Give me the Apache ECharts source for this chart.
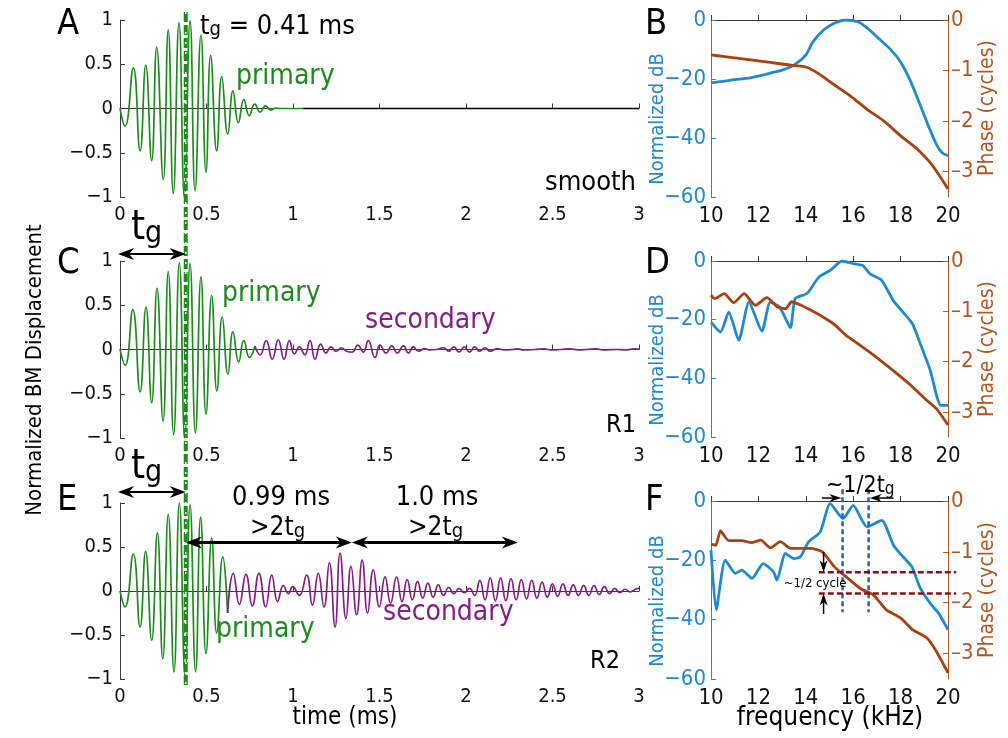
<!DOCTYPE html>
<html><head><meta charset="utf-8">
<script src="https://cdn.jsdelivr.net/npm/echarts@6/dist/echarts.min.js"></script>
<style>html,body{margin:0;padding:0;background:#fff}#c{width:1008px;height:738px}</style>
</head><body><div id="c"></div>
<script>
// ---------------- DATA ----------------
const timeTicks = [0, 0.5, 1, 1.5, 2, 2.5, 3];
const dispTicks = [-1, -0.5, 0, 0.5, 1];
const freqTicks = [10, 12, 14, 16, 18, 20];
const dbTicks = [-60, -40, -20, 0];
const phaseTicks = [-3, -2, -1, 0];

// Panel A (smooth): primary waveform [time ms, displacement]
const aPrimary = [[0,0],[0.029,-0.2],[0.077,0.46],[0.116,-0.48],[0.149,0.49],[0.183,-0.59],[0.212,0.69],[0.25,-0.8],[0.279,0.89],[0.308,-0.96],[0.341,0.97],[0.372,-1.0],[0.405,0.99],[0.434,-0.93],[0.468,0.83],[0.497,-0.72],[0.524,0.6],[0.559,-0.48],[0.588,0.36],[0.623,-0.29],[0.653,0.2],[0.684,-0.16],[0.716,0.1],[0.747,-0.08],[0.779,0.05],[0.81,-0.04],[0.841,0.03],[0.872,-0.02],[0.9,0.005],[0.93,0],[1.06,0]];
const aTail = [[1.06,0],[3,0]];

// Panel C (R1)
const cPrimary = [[0,0],[0.03,-0.18],[0.074,0.45],[0.116,-0.48],[0.15,0.48],[0.183,-0.6],[0.214,0.69],[0.249,-0.81],[0.279,0.88],[0.31,-0.96],[0.343,0.98],[0.374,-1.0],[0.405,0.97],[0.436,-0.94],[0.468,0.82],[0.497,-0.73],[0.53,0.61],[0.56,-0.47],[0.591,0.37],[0.624,-0.28],[0.653,0.2],[0.686,-0.14],[0.716,0.1],[0.748,-0.09],[0.78,0.04]];
const cSecondary = [[0.78,0.04],[0.81,-0.06],[0.845,0.1],[0.88,-0.11],[0.915,0.11],[0.948,-0.11],[0.979,0.1],[1.008,-0.05],[1.037,0.03],[1.068,-0.06],[1.098,0.1],[1.127,-0.11],[1.16,0.06],[1.19,-0.04],[1.22,0.03],[1.25,-0.02],[1.28,0.02],[1.31,-0.02],[1.343,-0.03],[1.374,0.05],[1.407,-0.03],[1.435,0.1],[1.474,-0.09],[1.503,0.05],[1.538,-0.04],[1.571,0.04],[1.603,-0.04],[1.638,0.04],[1.667,-0.04],[1.696,0.03],[1.725,-0.02],[1.76,0.01],[1.79,-0.005],[1.83,0],[1.87,0.02],[1.9,-0.02],[1.93,0.03],[1.96,-0.03],[1.99,0.03],[2.02,-0.03],[2.05,0.03],[2.08,-0.02],[2.11,0.02],[2.14,-0.02],[2.18,0.01],[2.22,-0.005],[2.27,0],[2.3,0.008],[2.33,-0.005],[2.4,0],[2.45,0.006],[2.5,-0.005],[2.55,0],[2.6,0.006],[2.65,-0.004],[2.7,0],[2.75,0.006],[2.8,-0.005],[2.87,0],[2.93,-0.004],[2.97,0.006],[3.0,0.005]];

// Panel E (R2)
const ePrimary = [[0,0],[0.029,-0.18],[0.077,0.42],[0.116,-0.41],[0.148,0.45],[0.183,-0.56],[0.216,0.66],[0.247,-0.77],[0.279,0.87],[0.312,-0.92],[0.343,1.0],[0.376,-0.97],[0.405,0.98],[0.437,-0.92],[0.466,0.84],[0.497,-0.71],[0.53,0.6],[0.559,-0.48],[0.594,0.39],[0.622,-0.25]];
const eSecondary = [[0.622,-0.25],[0.655,0.2],[0.69,-0.15],[0.728,0.19],[0.765,-0.17],[0.803,0.2],[0.842,-0.18],[0.877,0.18],[0.911,-0.12],[0.944,0.06],[0.973,-0.03],[0.998,0.05],[1.036,-0.05],[1.079,0.18],[1.112,-0.16],[1.146,0.2],[1.179,-0.18],[1.21,0.32],[1.243,-0.41],[1.272,0.43],[1.306,-0.31],[1.335,0.28],[1.368,-0.27],[1.4,0.35],[1.431,-0.25],[1.464,0.24],[1.499,-0.18],[1.532,0.16],[1.564,-0.14],[1.599,0.16],[1.63,-0.12],[1.66,0.13],[1.69,-0.1],[1.72,0.11],[1.75,-0.08],[1.78,0.09],[1.81,-0.07],[1.84,0.07],[1.87,-0.05],[1.9,0.04],[1.93,-0.03],[1.96,0.03],[1.99,-0.02],[2.02,0.03],[2.05,-0.05],[2.08,0.12],[2.11,-0.1],[2.14,0.15],[2.17,-0.11],[2.2,0.15],[2.23,-0.11],[2.26,0.14],[2.29,-0.1],[2.32,0.13],[2.35,-0.09],[2.38,0.12],[2.41,-0.08],[2.44,0.1],[2.47,-0.07],[2.5,0.08],[2.53,-0.06],[2.56,0.08],[2.59,-0.05],[2.62,0.07],[2.65,-0.05],[2.68,0.06],[2.71,-0.05],[2.74,0.06],[2.77,-0.04],[2.8,0.05],[2.83,-0.03],[2.86,0.03],[2.89,-0.02],[2.92,0.02],[2.95,-0.01],[2.98,0.02],[3.0,0.03]];

// Panel B: [kHz, dB] and [kHz, cycles]
const bMag = [[10,-21.3],[10.5,-20.8],[11,-20.2],[11.5,-19.8],[12,-19],[12.5,-18],[13,-17],[13.5,-15.3],[14,-11.9],[14.3,-7.4],[14.75,-3.4],[15.2,-1.1],[15.7,0],[16.2,-0.6],[16.6,-2.8],[17,-5.7],[17.6,-10.2],[18,-14.2],[18.4,-20.4],[18.8,-28.3],[19.25,-37.4],[19.5,-42],[19.75,-45],[20,-46]];
const bPhase = [[10,-0.69],[10.5,-0.72],[11,-0.75],[11.5,-0.78],[12,-0.81],[12.5,-0.84],[13,-0.87],[13.5,-0.9],[14,-0.93],[14.5,-1.05],[15.2,-1.28],[15.9,-1.51],[16.6,-1.77],[17.3,-2.0],[18,-2.29],[18.7,-2.55],[19.25,-2.82],[19.6,-3.05],[20,-3.34]];
// Panel D
const dMag = [[10,-20.8],[10.4,-24.2],[10.75,-17.4],[11.17,-27],[11.6,-14],[12.15,-23.9],[12.5,-14],[12.9,-15.7],[13.35,-22.7],[13.55,-12.8],[14.05,-11.1],[14.55,-5.5],[15.03,-3.2],[15.53,0],[16.0,-0.9],[16.4,-1.5],[16.7,-4.3],[17.2,-6.6],[17.7,-13.6],[18.1,-17.4],[18.5,-21.4],[18.83,-28.2],[19.25,-37.3],[19.7,-49.2],[20,-49.2]];
const dPhase = [[10,-0.68],[10.15,-0.75],[10.56,-0.65],[10.96,-0.83],[11.4,-0.65],[11.87,-0.88],[12.36,-0.73],[12.8,-0.91],[13.15,-0.95],[13.4,-0.81],[13.8,-0.88],[14.1,-0.95],[14.6,-1.08],[15.2,-1.26],[15.7,-1.48],[16.3,-1.68],[16.86,-1.87],[17.4,-2.07],[18,-2.3],[18.5,-2.5],[19.1,-2.77],[19.5,-2.93],[20,-3.26]];
// Panel F
const fMag = [[10,-16.6],[10.22,-36.7],[10.6,-19.9],[11.03,-24.4],[11.3,-23.3],[11.73,-26.1],[12.2,-21.1],[12.64,-23.9],[12.78,-26.7],[13.14,-17.7],[13.5,-19.4],[13.77,-18.8],[14.12,-13.8],[14.61,-10.4],[15.03,-0.9],[15.57,-5.9],[16.0,-1.5],[16.58,-8.7],[17.2,-6.5],[17.7,-14.9],[18.1,-18.8],[18.48,-22.2],[18.83,-29.4],[19.25,-34.5],[19.6,-37.8],[20,-43.4]];
const fPhase = [[10,-0.85],[10.2,-0.87],[10.4,-0.59],[10.75,-0.78],[11.3,-0.78],[11.7,-0.82],[12.1,-0.77],[12.5,-0.92],[12.93,-0.8],[13.35,-0.93],[13.8,-0.93],[14.2,-0.93],[14.7,-1.0],[15.2,-1.29],[15.7,-1.49],[16.3,-1.72],[16.86,-1.85],[17.4,-2.14],[18,-2.3],[18.5,-2.53],[19.1,-2.69],[19.5,-2.95],[20,-3.38]];

// annotation values
const tg = 0.38;           // group delay marker position (ms)
const echo1End = 1.34, echo2End = 2.30;
const fDashF = [15.55, 16.65];
const fDashPhase = [-1.40, -1.82];

// ---------------- STYLE ----------------
const FONT = '"DejaVu Sans Condensed","DejaVu Sans",sans-serif';
const GREEN = '#1c8c1c', PURPLE = '#8a1a8a', BLUE = '#1f8ad2', BROWN = '#a8420f', BROWN_T = '#b5541f', AX = '#3a3a3a';
const minus = v => String(v).replace('-', '\u2212');
const dash = v => String(v).replace('-', '\u2013');

const grids = [
  {left:120, top:20, width:519, height:177},
  {left:120, top:261, width:519, height:177},
  {left:120, top:503, width:519, height:176},
  {left:711, top:20, width:237, height:177},
  {left:711, top:261, width:237, height:176},
  {left:711, top:501, width:237, height:178}
];

function timeX(gi) {
  return {gridIndex:gi, type:'value', min:timeTicks[0], max:timeTicks[timeTicks.length-1], interval:0.5,
    axisLine:{lineStyle:{color:AX, width:1}}, axisTick:{inside:true, length:5, lineStyle:{color:AX}},
    splitLine:{show:false}, axisLabel:{color:'#111', fontSize:20, fontFamily:FONT, margin:8, formatter:minus}};
}
function freqX(gi) {
  return {gridIndex:gi, type:'value', min:10, max:20, interval:2,
    axisLine:{lineStyle:{color:AX, width:1}}, axisTick:{inside:true, length:5, lineStyle:{color:AX}},
    splitLine:{show:false}, axisLabel:{color:'#111', fontSize:22, fontFamily:FONT, margin:8}};
}
function dispY(gi) {
  return {gridIndex:gi, type:'value', min:-1, max:1, interval:0.5,
    axisLine:{show:true, lineStyle:{color:AX, width:1}}, axisTick:{show:true, inside:true, length:5, lineStyle:{color:AX}},
    splitLine:{show:false}, axisLabel:{color:'#111', fontSize:20, fontFamily:FONT, margin:7, formatter:minus}};
}
function dbY(gi) {
  return {gridIndex:gi, type:'value', min:-60, max:0, interval:20, position:'left',
    axisLine:{show:true, onZero:false, lineStyle:{color:BLUE, width:1}}, axisTick:{show:true, inside:true, length:5, lineStyle:{color:BLUE}},
    splitLine:{show:false}, axisLabel:{color:BLUE, fontSize:22, fontFamily:FONT, margin:5, formatter:minus}};
}
function phY(gi) {
  return {gridIndex:gi, type:'value', min:-3.5, max:0, position:'right',
    axisLine:{show:true, onZero:false, lineStyle:{color:BROWN_T, width:1}},
    axisTick:{show:true, inside:true, length:5, lineStyle:{color:BROWN_T}, customValues:phaseTicks},
    splitLine:{show:false}, axisLabel:{color:BROWN_T, fontSize:22, fontFamily:FONT, margin:3, formatter:dash, customValues:phaseTicks}};
}

function line(data, color, xi, yi, width, smooth) {
  return {type:'line', data, xAxisIndex:xi, yAxisIndex:yi, symbol:'none', smooth:smooth,
    lineStyle:{color, width}, animation:false, silent:true, z:3};
}

const chart = echarts.init(document.getElementById('c'), null, {renderer:'canvas'});
chart.setOption({
  backgroundColor:'#fff',
  animation:false,
  grid: grids,
  xAxis: [timeX(0), timeX(1), timeX(2), freqX(3), freqX(4), freqX(5)],
  yAxis: [dispY(0), dispY(1), dispY(2), dbY(3), phY(3), dbY(4), phY(4), dbY(5), phY(5)],
  series: [
    line(aPrimary, GREEN, 0, 0, 1.7, 0.5),
    line(aTail, '#000', 0, 0, 1.6, false),
    line(cPrimary, GREEN, 1, 1, 1.7, 0.5),
    line(cSecondary, PURPLE, 1, 1, 1.7, 0.5),
    line(ePrimary, GREEN, 2, 2, 1.7, 0.5),
    line(eSecondary, PURPLE, 2, 2, 1.7, 0.5),
    line(bMag, BLUE, 3, 3, 2.8, 0.3),
    line(bPhase, BROWN, 3, 4, 2.8, 0.3),
    line(dMag, BLUE, 4, 5, 2.8, 0.2),
    line(dPhase, BROWN, 4, 6, 2.8, 0.2),
    line(fMag, BLUE, 5, 7, 2.8, 0.2),
    line(fPhase, BROWN, 5, 8, 2.8, 0.2)
  ]
});

// ---------------- ANNOTATIONS ----------------
const P = (xi, yi, x, y) => chart.convertToPixel({xAxisIndex:xi, yAxisIndex:yi}, [x, y]);
const G = [];
function txt(x, y, s, size, color, opts) {
  opts = opts || {};
  G.push({type:'text', x, y, rotation:opts.rot || 0, z:10, silent:true,
    style:{text:s, fontSize:size, fontFamily:FONT, fill:color, align:opts.align || 'left', verticalAlign:opts.va || 'middle'}});
}
function tsub(x, y, pre, sub, post, size, color, subSize, align) {
  G.push({type:'text', x, y, z:10, silent:true,
    style:{text:'{m|' + pre + '}{s|' + sub + '}' + (post ? '{m|' + post + '}' : ''), fontFamily:FONT, fill:color, align:align || 'left', verticalAlign:'middle',
      rich:{m:{fontSize:size, fontFamily:FONT, fill:color, lineHeight:size*1.2, verticalAlign:'bottom'},
            s:{fontSize:subSize, fontFamily:FONT, fill:color, lineHeight:subSize, verticalAlign:'bottom'}}}});
}
function seg(x1, y1, x2, y2, color, width, dashArr) {
  G.push({type:'line', z:9, silent:true, shape:{x1, y1, x2, y2}, style:{stroke:color, lineWidth:width, lineDash:dashArr || null}});
}
function head(x, y, ang, color, len, w) {
  len = len || 16; w = w || 6;
  const c = Math.cos(ang), s = Math.sin(ang);
  const pts = [[0,0],[-len,-w],[-len*0.7,0],[-len,w]].map(p => [x + p[0]*c - p[1]*s, y + p[0]*s + p[1]*c]);
  G.push({type:'polygon', z:10, silent:true, shape:{points:pts}, style:{fill:color}});
}
function dbl(x1, y, x2, color, width) {
  seg(x1 + 4, y, x2 - 4, y, color, width || 2);
  head(x1, y, Math.PI, color); head(x2, y, 0, color);
}

// vertical group delay line through left column
const xTg = P(0, 0, tg, 0)[0];
seg(xTg, 12, xTg, 688, GREEN, 4, [10, 3]);
seg(xTg, 12, xTg, 688, '#ffffff', 1.5, [2, 8]);

// panel letters
[['A',57,25],['B',645,25],['C',57,264],['D',645,264],['E',57,501],['F',645,501]].forEach(l => txt(l[1], l[2], l[0], 36, '#000'));

// panel A
tsub(200, 24, 't', 'g', ' = 0.41 ms', 27, '#000', 20);
txt(236, 77, 'primary', 28, GREEN);
txt(636, 183, 'smooth', 27, '#000', {align:'right'});

// panel C
tsub(131, 225, 't', 'g', '', 40, '#000', 30);
dbl(118, 254, xTg, '#000', 2);
txt(222, 294, 'primary', 28, GREEN);
txt(365, 321, 'secondary', 28, PURPLE);
txt(636, 425, 'R1', 25, '#000', {align:'right'});

// panel E
tsub(131, 464, 't', 'g', '', 40, '#000', 30);
dbl(118, 492, xTg, '#000', 2);
const yArr = P(2, 2, 0, 0.55)[1];
const xE1 = P(2, 2, echo1End, 0)[0], xE2 = P(2, 2, echo2End, 0)[0];
dbl(xTg, yArr, xE1, '#000', 3);
dbl(xE1, yArr, xE2, '#000', 3);
txt(281, 498, '0.99 ms', 27, '#000', {align:'center'});
tsub(250, 526, '>2t', 'g', '', 26, '#000', 20);
txt(437, 498, '1.0 ms', 27, '#000', {align:'center'});
tsub(408, 526, '>2t', 'g', '', 26, '#000', 20);
txt(216, 630, 'primary', 28, GREEN);
txt(383, 613, 'secondary', 28, PURPLE);
txt(620, 661, 'R2', 25, '#000', {align:'right'});

// axis labels
txt(35, 370, 'Normalized BM Displacement', 22, '#000', {align:'center', rot:Math.PI/2});
txt(345, 718, 'time (ms)', 24, '#000', {align:'center'});
txt(830, 718, 'frequency (kHz)', 26, '#000', {align:'center'});
[[3,108],[4,349],[5,590]].forEach(g => {
  txt(658, g[1] + 11, 'Normalized dB', 20, BLUE, {align:'center', rot:Math.PI/2});
  txt(988, g[1], 'Phase (cycles)', 21, BROWN_T, {align:'center', rot:Math.PI/2});
});

// panel F annotations
fDashF.forEach(f => {
  const a = P(5, 7, f, 4), b = P(5, 7, f, -37.5);
  seg(a[0], a[1], b[0], b[1], '#1f5fd6', 2.5, [5, 3]);
});
fDashPhase.forEach(ph => {
  const a = P(5, 8, 14.55, ph), b = P(5, 8, 20.35, ph);
  seg(a[0], a[1], b[0], b[1], '#8b1010', 2.5, [6, 3]);
});
(function(){
  const top1 = P(5, 8, 14.75, -1.0), bot1 = P(5, 8, 14.75, fDashPhase[0]);
  seg(top1[0], top1[1], bot1[0], bot1[1] - 6, '#000', 1.5);
  head(bot1[0], bot1[1], Math.PI/2, '#000', 12, 4);
  const top2 = P(5, 8, 14.75, -2.22), bot2 = P(5, 8, 14.75, fDashPhase[1]);
  seg(top2[0], top2[1], bot2[0], bot2[1] + 6, '#000', 1.5);
  head(bot2[0], bot2[1], -Math.PI/2, '#000', 12, 4);
  txt(P(5, 8, 14.39, 0)[0], P(5, 8, 0, -1.63)[1], '~1/2 cycle', 13, '#000', {align:'center'});
  const yA = P(5, 7, 0, 1.0)[1];
  const l1 = P(5, 7, 14.68, 0)[0], l2 = P(5, 7, 15.5, 0)[0];
  seg(l1, yA, l2 - 6, yA, '#000', 1.5); head(l2, yA, 0, '#000', 12, 4);
  const r1 = P(5, 7, 17.7, 0)[0], r2 = P(5, 7, 16.7, 0)[0];
  seg(r1, yA, r2 + 6, yA, '#000', 1.5); head(r2, yA, Math.PI, '#000', 12, 4);
  tsub(826, 484, '~1/2t', 'g', '', 23, '#000', 17);
})();

chart.setOption({graphic: G});
</script>
</body></html>
